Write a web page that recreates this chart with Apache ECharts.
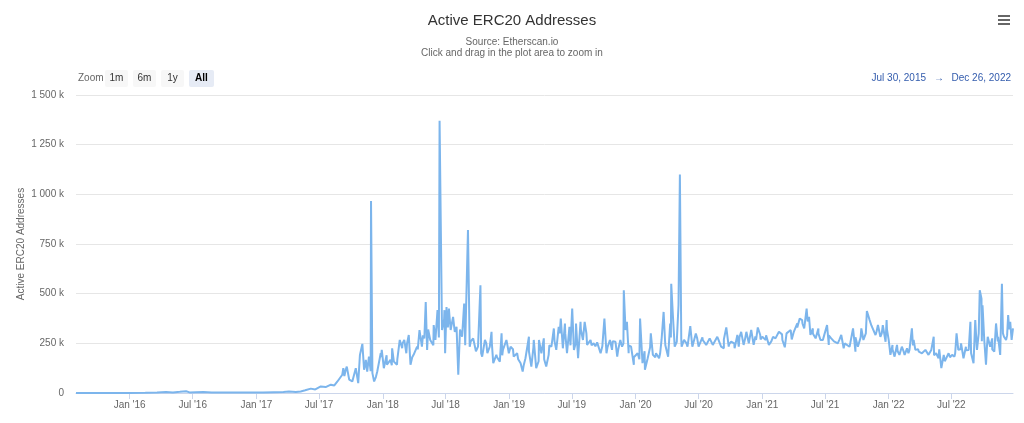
<!DOCTYPE html>
<html>
<head>
<meta charset="utf-8">
<title>Active ERC20 Addresses</title>
<script src="https://cdn.jsdelivr.net/npm/echarts@6/dist/echarts.min.js"></script>
<style>
    html, body { margin: 0; padding: 0; background: #fff; }
    #chart { width: 1024px; height: 423px; }
</style>
</head>
<body>
<div id="chart"></div>
<script>
var dates = [
    '2015-07-30', '2015-09-15', '2015-11-01', '2016-01-01', '2016-02-15', '2016-03-20', '2016-04-15',
    '2016-05-05', '2016-05-25', '2016-06-12', '2016-06-22', '2016-07-10', '2016-08-01', '2016-08-25',
    '2016-09-20', '2016-10-20', '2016-11-20', '2016-12-20', '2017-01-20', '2017-02-20', '2017-03-20',
    '2017-04-05', '2017-04-25', '2017-05-09', '2017-05-22', '2017-06-07', '2017-06-20', '2017-07-06',
    '2017-07-20', '2017-08-04', '2017-08-14', '2017-08-23', '2017-09-06', '2017-09-09', '2017-09-12',
    '2017-09-16', '2017-09-19', '2017-09-26', '2017-10-05', '2017-10-15', '2017-10-22', '2017-10-27',
    '2017-11-03', '2017-11-08', '2017-11-13', '2017-11-17', '2017-11-22', '2017-11-28', '2017-12-02',
    '2017-12-07', '2017-12-16', '2017-12-26', '2017-12-29', '2018-01-04', '2018-01-13', '2018-01-23',
    '2018-01-28', '2018-02-02', '2018-02-11', '2018-02-19', '2018-02-26', '2018-03-04', '2018-03-10',
    '2018-03-17', '2018-03-22', '2018-03-31', '2018-04-10', '2018-04-17', '2018-04-24', '2018-05-01',
    '2018-05-05', '2018-05-09', '2018-05-18', '2018-05-28', '2018-06-02', '2018-06-08', '2018-06-14',
    '2018-06-21', '2018-06-28', '2018-06-30', '2018-07-04', '2018-07-08', '2018-07-11', '2018-07-16',
    '2018-07-23', '2018-07-28', '2018-08-02', '2018-08-07', '2018-08-11', '2018-08-18', '2018-08-24',
    '2018-08-29', '2018-09-04', '2018-09-09', '2018-09-19', '2018-09-28', '2018-10-03', '2018-10-10',
    '2018-10-15', '2018-10-23', '2018-10-30', '2018-11-06', '2018-11-11', '2018-11-16', '2018-11-25',
    '2018-12-05', '2018-12-10', '2018-12-14', '2018-12-24', '2018-12-31', '2019-01-05', '2019-01-14',
    '2019-01-24', '2019-02-03', '2019-02-09', '2019-02-17', '2019-02-27', '2019-03-06', '2019-03-13',
    '2019-03-20', '2019-03-28', '2019-04-04', '2019-04-11', '2019-04-18', '2019-04-25', '2019-05-03',
    '2019-05-10', '2019-05-17', '2019-05-24', '2019-05-30', '2019-06-05', '2019-06-11', '2019-06-17',
    '2019-06-24', '2019-07-02', '2019-07-07', '2019-07-13', '2019-07-19', '2019-07-26', '2019-08-02',
    '2019-08-07', '2019-08-14', '2019-08-24', '2019-09-02', '2019-09-07', '2019-09-14', '2019-09-22',
    '2019-10-03', '2019-10-09', '2019-10-19', '2019-10-25', '2019-11-04', '2019-11-09', '2019-11-18',
    '2019-11-23', '2019-11-28', '2019-12-03', '2019-12-07', '2019-12-12', '2019-12-19', '2019-12-27',
    '2020-01-07', '2020-01-14', '2020-01-21', '2020-01-28', '2020-02-05', '2020-02-14', '2020-02-20',
    '2020-02-29', '2020-03-09', '2020-03-16', '2020-03-22', '2020-03-26', '2020-03-31', '2020-04-04',
    '2020-04-10', '2020-04-13', '2020-04-18', '2020-04-23', '2020-04-29', '2020-05-04', '2020-05-08',
    '2020-05-13', '2020-05-20', '2020-05-30', '2020-06-07', '2020-06-13', '2020-06-23', '2020-07-01',
    '2020-07-13', '2020-07-23', '2020-08-02', '2020-08-11', '2020-08-24', '2020-09-04', '2020-09-12',
    '2020-09-19', '2020-09-26', '2020-10-03', '2020-10-13', '2020-10-21', '2020-10-25', '2020-11-01',
    '2020-11-08', '2020-11-16', '2020-11-23', '2020-11-30', '2020-12-07', '2020-12-14', '2020-12-19',
    '2020-12-26', '2021-01-01', '2021-01-11', '2021-01-20', '2021-01-25', '2021-02-01', '2021-02-08',
    '2021-02-18', '2021-02-28', '2021-03-07', '2021-03-14', '2021-03-24', '2021-04-02', '2021-04-12',
    '2021-04-19', '2021-04-26', '2021-05-02', '2021-05-09', '2021-05-16', '2021-05-20', '2021-05-27',
    '2021-06-04', '2021-06-12', '2021-06-18', '2021-06-25', '2021-07-07', '2021-07-12', '2021-07-19',
    '2021-07-29', '2021-08-07', '2021-08-17', '2021-08-24', '2021-09-01', '2021-09-10', '2021-09-20',
    '2021-09-27', '2021-10-04', '2021-10-14', '2021-10-20', '2021-10-30', '2021-11-07', '2021-11-16',
    '2021-11-24', '2021-12-01', '2021-12-08', '2021-12-15', '2021-12-19', '2021-12-23', '2021-12-26',
    '2022-01-01', '2022-01-06', '2022-01-12', '2022-01-18', '2022-01-25', '2022-02-01', '2022-02-08',
    '2022-02-16', '2022-02-23', '2022-03-02', '2022-03-09', '2022-03-14', '2022-03-19', '2022-03-29',
    '2022-04-07', '2022-04-17', '2022-04-26', '2022-05-04', '2022-05-11', '2022-05-18', '2022-05-25',
    '2022-06-02', '2022-06-09', '2022-06-15', '2022-06-23', '2022-07-03', '2022-07-10', '2022-07-16',
    '2022-07-21', '2022-07-29', '2022-08-05', '2022-08-12', '2022-08-20', '2022-08-25', '2022-08-30',
    '2022-09-03', '2022-09-08', '2022-09-13', '2022-09-18', '2022-09-21', '2022-09-26', '2022-09-29',
    '2022-10-04', '2022-10-09', '2022-10-14', '2022-10-21', '2022-10-27', '2022-11-02', '2022-11-07',
    '2022-11-13', '2022-11-19', '2022-11-24', '2022-11-30', '2022-12-06', '2022-12-12', '2022-12-18',
    '2022-12-22', '2022-12-26'
];

var addresses = [
    0, 200, 300, 600, 1000, 2500, 5000,
    3000, 6000, 9000, 3000, 4000, 5000, 2500,
    3000, 2000, 2500, 3000, 3000, 4000, 4500,
    7000, 5000, 8000, 14000, 22000, 18000, 33000,
    30000, 42000, 38000, 58000, 92000, 125000, 85000,
    117000, 133000, 67000, 58000, 125000, 50000, 192000,
    247000, 117000, 167000, 108000, 183000, 966000, 100000,
    58000, 108000, 200000, 217000, 125000, 142000, 167000,
    225000, 158000, 142000, 267000, 225000, 267000, 200000,
    292000, 142000, 192000, 233000, 317000, 233000, 275000,
    458000, 217000, 267000, 342000, 267000, 417000, 1370000,
    317000, 417000, 200000, 433000, 330000, 425000, 317000,
    383000, 308000, 333000, 92000, 275000, 283000, 450000,
    233000, 820000, 233000, 275000, 200000, 233000, 542000,
    183000, 267000, 200000, 233000, 308000, 150000, 192000,
    158000, 300000, 217000, 267000, 200000, 233000, 183000,
    200000, 150000, 108000, 175000, 283000, 133000, 267000,
    125000, 267000, 200000, 275000, 133000, 192000, 233000,
    325000, 217000, 333000, 375000, 225000, 350000, 200000,
    333000, 425000, 217000, 350000, 175000, 358000, 267000,
    358000, 242000, 267000, 250000, 235000, 258000, 200000,
    375000, 200000, 267000, 217000, 258000, 183000, 267000,
    233000, 517000, 317000, 358000, 200000, 233000, 142000,
    200000, 375000, 150000, 117000, 175000, 300000, 192000,
    200000, 175000, 267000, 408000, 267000, 250000, 183000,
    350000, 550000, 383000, 233000, 258000, 442000, 1100000,
    233000, 267000, 233000, 337000, 233000, 300000, 233000,
    267000, 242000, 275000, 242000, 283000, 233000, 225000,
    330000, 233000, 258000, 225000, 292000, 233000, 308000,
    242000, 308000, 250000, 317000, 242000, 267000, 330000,
    292000, 283000, 267000, 242000, 237000, 283000, 275000,
    308000, 267000, 230000, 292000, 317000, 308000, 350000,
    375000, 367000, 325000, 425000, 383000, 292000, 325000,
    275000, 325000, 267000, 267000, 342000, 242000, 275000,
    267000, 250000, 292000, 225000, 258000, 233000, 325000,
    208000, 233000, 325000, 267000, 413000, 367000, 333000,
    292000, 342000, 283000, 342000, 333000, 258000, 367000,
    267000, 192000, 242000, 183000, 242000, 192000, 233000,
    192000, 225000, 217000, 325000, 267000, 217000, 208000,
    200000, 217000, 192000, 217000, 283000, 200000, 175000,
    125000, 192000, 167000, 200000, 192000, 183000, 300000,
    217000, 250000, 175000, 233000, 217000, 358000, 192000,
    150000, 367000, 217000, 300000, 517000, 475000, 442000,
    267000, 142000, 283000, 233000, 275000, 208000, 350000,
    283000, 192000, 550000, 283000, 267000, 392000, 358000,
    267000, 325000
];

// extra readings from the dense daily band (two per month), merged with the main list below
var band_dates = [
    '2017-11-12', '2017-11-27', '2017-12-12', '2017-12-27', '2018-01-12', '2018-01-27',
    '2018-02-12', '2018-02-27', '2018-03-12', '2018-03-27', '2018-04-12', '2018-04-27',
    '2018-05-12', '2018-05-27', '2018-06-12', '2018-06-27', '2018-07-12', '2018-07-27',
    '2018-08-12', '2018-08-27', '2018-09-12', '2018-09-27', '2018-10-12', '2018-10-27',
    '2018-11-12', '2018-11-27', '2018-12-12', '2018-12-27', '2019-01-12', '2019-01-27',
    '2019-02-12', '2019-02-27', '2019-03-12', '2019-03-27', '2019-04-12', '2019-04-27',
    '2019-05-12', '2019-05-27', '2019-06-12', '2019-06-27', '2019-07-12', '2019-07-27',
    '2019-08-12', '2019-08-27', '2019-09-12', '2019-09-27', '2019-10-12', '2019-10-27',
    '2019-11-12', '2019-11-27', '2019-12-12', '2019-12-27', '2020-01-12', '2020-01-27',
    '2020-02-12', '2020-02-27', '2020-03-12', '2020-03-27', '2020-04-12', '2020-04-27',
    '2020-05-12', '2020-05-27', '2020-06-12', '2020-06-27', '2020-07-12', '2020-07-27',
    '2020-08-12', '2020-08-27', '2020-09-12', '2020-09-27', '2020-10-12', '2020-10-27',
    '2020-11-12', '2020-11-27', '2020-12-12', '2020-12-27', '2021-01-12', '2021-01-27',
    '2021-02-12', '2021-02-27', '2021-03-12', '2021-03-27', '2021-04-12', '2021-04-27',
    '2021-05-12', '2021-05-27', '2021-06-12', '2021-06-27', '2021-07-12', '2021-07-27',
    '2021-08-12', '2021-08-27', '2021-09-12', '2021-09-27', '2021-10-12', '2021-10-27',
    '2021-11-12', '2021-11-27', '2021-12-12', '2021-12-27', '2022-01-12', '2022-01-27',
    '2022-02-12', '2022-02-27', '2022-03-12', '2022-03-27', '2022-04-12', '2022-04-27',
    '2022-05-12', '2022-05-27', '2022-06-12', '2022-06-27', '2022-07-12', '2022-07-27',
    '2022-08-12', '2022-08-27', '2022-09-12', '2022-09-27', '2022-10-12', '2022-10-27',
    '2022-11-12', '2022-11-27', '2022-12-09', '2022-12-15'
];

var band_addresses = [
    150000, 110000, 80000, 180000, 190000, 140000,
    170000, 250000, 250000, 180000, 220000, 290000,
    320000, 240000, 280000, 370000, 400000, 320000,
    320000, 240000, 260000, 210000, 200000, 250000,
    250000, 180000, 190000, 240000, 220000, 170000,
    140000, 210000, 230000, 160000, 170000, 240000,
    260000, 300000, 300000, 240000, 250000, 320000,
    300000, 240000, 255000, 235000, 230000, 260000,
    220000, 250000, 240000, 180000, 170000, 210000,
    230000, 180000, 200000, 240000, 280000, 240000,
    270000, 250000, 250000, 275000, 280000, 250000,
    250000, 270000, 270000, 245000, 250000, 280000,
    270000, 290000, 285000, 270000, 290000, 260000,
    270000, 295000, 300000, 270000, 330000, 350000,
    360000, 300000, 300000, 280000, 290000, 260000,
    270000, 250000, 250000, 280000, 280000, 300000,
    340000, 310000, 300000, 320000, 220000, 210000,
    215000, 200000, 240000, 220000, 210000, 200000,
    190000, 220000, 160000, 180000, 200000, 220000,
    215000, 200000, 240000, 260000, 240000, 220000,
    260000, 300000, 290000, 320000
];

var y_ticks = [0, 250000, 500000, 750000, 1000000, 1250000, 1500000];
var zoom_buttons = ['1m', '6m', '1y', 'All'];
var month_names = ['Jan', 'Feb', 'Mar', 'Apr', 'May', 'Jun', 'Jul', 'Aug', 'Sep', 'Oct', 'Nov', 'Dec'];

var FONT = '"Liberation Sans", Arial, sans-serif';

function format_k(value)
{
    if (value === 0)
        return '0';
    var k = String(Math.round(value / 1000));
    return k.replace(/\B(?=(\d{3})+(?!\d))/g, ' ') + ' k';
}

function build_graphics()
{
    var items = [{
        type: 'text', x: 78, y: 78.5,
        style: { text: 'Zoom', verticalAlign: 'middle', font: '10px ' + FONT, fill: '#666666' }
    }];
    var x = 105;
    for (var i = 0; i < zoom_buttons.length; i++) {
        var selected = zoom_buttons[i] === 'All';
        var w = selected ? 25 : 23;
        items.push({
            type: 'rect', left: x, top: 70,
            shape: { width: w, height: 17, r: 2 },
            style: { fill: selected ? '#e6ebf5' : '#f7f7f7' }
        });
        items.push({
            type: 'text', x: x + w / 2, y: 78.5,
            style: {
                text: zoom_buttons[i], align: 'center', verticalAlign: 'middle',
                font: (selected ? 'bold ' : '') + '10px ' + FONT,
                fill: selected ? '#000000' : '#333333'
            }
        });
        x += w + 5;
    }
    // date range shown on the right
    items.push({
        type: 'text', x: 926, y: 78.5,
        style: { text: 'Jul 30, 2015', align: 'right', verticalAlign: 'middle', font: '10px ' + FONT, fill: '#335cad' }
    });
    items.push({
        type: 'text', x: 939, y: 78.5,
        style: { text: '\u2192', align: 'center', verticalAlign: 'middle', font: '10px ' + FONT, fill: '#335cad' }
    });
    items.push({
        type: 'text', x: 1011, y: 78.5,
        style: { text: 'Dec 26, 2022', align: 'right', verticalAlign: 'middle', font: '10px ' + FONT, fill: '#335cad' }
    });
    // y axis title
    items.push({
        type: 'text', x: 21, y: 244, rotation: Math.PI / 2,
        style: { text: 'Active ERC20 Addresses', align: 'center', verticalAlign: 'middle', font: '10px ' + FONT, fill: '#666666' }
    });
    // export menu icon
    for (var j = 0; j < 3; j++) {
        items.push({
            type: 'rect', left: 998, top: 15 + j * 4,
            shape: { width: 12, height: 2 },
            style: { fill: '#666666' }
        });
    }
    return items;
}

var chart = echarts.init(document.getElementById('chart'), null, { renderer: 'canvas' });

var series_data = [];
for (var i = 0; i < dates.length; i++) {
    series_data.push([dates[i], addresses[i]]);
}
for (var i = 0; i < band_dates.length; i++) {
    series_data.push([band_dates[i], band_addresses[i]]);
}
series_data.sort(function (a, b) {
    if (a[0] < b[0])
        return -1;
    if (a[0] > b[0])
        return 1;
    return 0;
});

var option = {
    animation: false,
    backgroundColor: '#ffffff',
    textStyle: { fontFamily: FONT },
    title: [
        {
            text: 'Active ERC20 Addresses', left: 'center', top: 8,
            textStyle: { fontSize: 15, fontWeight: 'normal', color: '#333333', fontFamily: FONT }
        },
        {
            text: 'Source: Etherscan.io', left: 'center', top: 32,
            textStyle: { fontSize: 10, fontWeight: 'normal', color: '#666666', fontFamily: FONT }
        },
        {
            text: 'Click and drag in the plot area to zoom in', left: 'center', top: 43,
            textStyle: { fontSize: 10, fontWeight: 'normal', color: '#666666', fontFamily: FONT }
        }
    ],
    grid: {
        left: 76, right: 11, top: 95, bottom: 30,
        containLabel: false,
        outerBoundsMode: 'none'
    },
    xAxis: {
        type: 'time',
        min: dates[0],
        max: dates[dates.length - 1],
        splitNumber: 15,
        axisLine: { lineStyle: { color: '#ccd6eb' } },
        axisTick: { show: true, length: 6, lineStyle: { color: '#ccd6eb' } },
        splitLine: { show: false },
        axisLabel: {
            color: '#666666', fontSize: 10, fontFamily: FONT, margin: 7,
            showMinLabel: false, showMaxLabel: false,
            hideOverlap: false,
            formatter: function (value) {
                var d = new Date(value);
                return month_names[d.getMonth()] + " '" + String(d.getFullYear()).slice(2);
            }
        }
    },
    yAxis: {
        type: 'value',
        min: y_ticks[0],
        max: y_ticks[y_ticks.length - 1],
        interval: 250000,
        axisLine: { show: false },
        axisTick: { show: false },
        splitLine: { lineStyle: { color: '#e6e6e6' } },
        axisLabel: {
            color: '#666666', fontSize: 10, fontFamily: FONT, margin: 12,
            formatter: format_k
        }
    },
    graphic: build_graphics(),
    series: [
        {
            name: 'Active ERC20 Addresses',
            type: 'line',
            data: series_data,
            showSymbol: false,
            symbol: 'none',
            lineStyle: { color: '#7cb5ec', width: 2 },
            itemStyle: { color: '#7cb5ec' }
        }
    ]
};
chart.setOption(option);
</script>
</body>
</html>
